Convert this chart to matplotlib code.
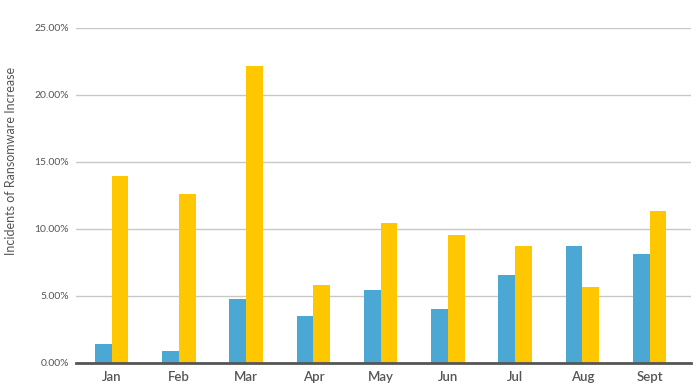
import matplotlib
matplotlib.use("Agg")
import matplotlib.pyplot as plt
import numpy as np

months = ["Jan", "Feb", "Mar", "Apr", "May", "Jun", "Jul", "Aug", "Sept"]
series_blue = [1.40, 0.90, 4.73, 3.50, 5.43, 4.00, 6.52, 8.69, 8.13]
series_yellow = [13.96, 12.60, 22.14, 5.78, 10.40, 9.53, 8.69, 5.63, 11.30]
yticks = [0, 5, 10, 15, 20, 25]
ytick_labels = ["0.00%", "5.00%", "10.00%", "15.00%", "20.00%", "25.00%"]

plt.rcParams['font.family'] = ['Lato', 'DejaVu Sans']

fig = plt.figure(figsize=(7, 3.89), dpi=100)
ax = fig.add_axes([0.1086, 0.0676, 0.878, 0.8614])

x = np.arange(len(months))
w = 0.248
ax.bar(x - w / 2, series_blue, width=w, color="#4BA8D5", zorder=3)
ax.bar(x + w / 2, series_yellow, width=w, color="#FFC700", zorder=3)

ax.set_xlim(-0.53, 8.61)
ax.set_ylim(0, 25)
ax.set_yticks(yticks)
ax.set_yticklabels(ytick_labels, fontsize=7.5, color="#555555")
ax.set_xticks(x)
ax.set_xticklabels(months, fontsize=9.5, color="#555555", fontweight="semibold")
ax.yaxis.grid(True, color="#C8C8C8", linewidth=1, zorder=0)
ax.tick_params(axis='both', length=0)
ax.tick_params(axis='y', pad=5)
ax.tick_params(axis='x', pad=6)
for s in ["top", "right", "left"]:
    ax.spines[s].set_visible(False)
ax.spines["bottom"].set_color("#555555")
ax.spines["bottom"].set_linewidth(2)
ax.spines["bottom"].set_zorder(4)
fig.text(0.016, 0.586, "Incidents of Ransomware Increase", rotation=90,
         ha="center", va="center", fontsize=9, color="#555555")

fig.savefig("out.png", dpi=100)
